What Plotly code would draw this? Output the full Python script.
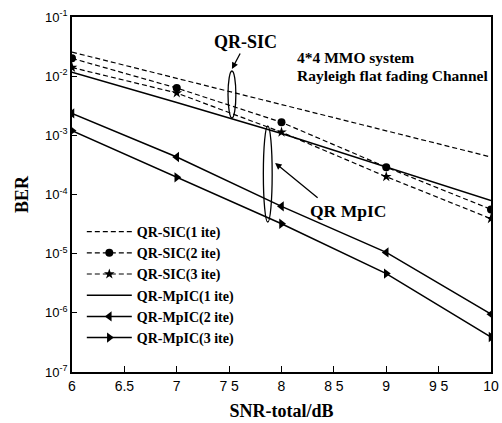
import plotly.graph_objects as go

snr = [6, 7, 8, 9, 10]
sic1 = [0.0255, 0.0092, 0.0033, 0.00118, 0.00043]
sic2 = [0.020, 0.0063, 0.00166, 0.00029, 0.000056]
sic3 = [0.014, 0.0052, 0.00113, 0.00020, 0.000039]
mpic1 = [0.0117, 0.0036, 0.00107, 0.00029, 0.000079]
mpic2 = [0.00235, 0.00043, 0.000063, 0.0000105, 0.00000095]
mpic3 = [0.0012, 0.000195, 0.000032, 0.0000046, 0.00000039]

names = ["QR-SIC(1 ite)", "QR-SIC(2 ite)", "QR-SIC(3 ite)",
         "QR-MpIC(1 ite)", "QR-MpIC(2 ite)", "QR-MpIC(3 ite)"]
xtick_vals = [6, 6.5, 7, 7.5, 8, 8.5, 9, 9.5, 10]
xtick_text = ["6", "6.5", "7", "7 5", "8", "8 5", "9", "9 5", "10"]
ytick_vals = [1e-7, 1e-6, 1e-5, 1e-4, 1e-3, 1e-2, 1e-1]
ytick_text = ["10<sup>-7</sup>", "10<sup>-6</sup>", "10<sup>-5</sup>", "10<sup>-4</sup>",
              "10<sup>-3</sup>", "10<sup>-2</sup>", "10<sup>-1</sup>"]

W, H = 502, 423
L, R, T, B = 72, 3, 17, 51
PW, PH = W - L - R, H - T - B

def px(x):
    return (x - L) / PW

def py(y):
    return 1 - (y - T) / PH

serif = "Liberation Serif"
sans = "Liberation Sans"

fig = go.Figure()
dash = "5px,3px"
series = [
    (sic1, dict(dash=dash, width=1.2), dict(symbol="circle", size=1, opacity=0), "lines"),
    (sic2, dict(dash=dash, width=1.2), dict(symbol="circle", size=8), "lines+markers"),
    (sic3, dict(dash=dash, width=1.2), dict(symbol="star", size=8), "lines+markers"),
    (mpic1, dict(width=1.5), dict(symbol="circle", size=1), "lines"),
    (mpic2, dict(width=1.5), dict(symbol="triangle-left", size=9), "lines+markers"),
    (mpic3, dict(width=1.5), dict(symbol="triangle-right", size=9), "lines+markers"),
]
for (vals, line, marker, mode), name in zip(series, names):
    line["color"] = "black"
    marker["color"] = "black"
    fig.add_trace(go.Scatter(x=snr, y=vals, name="<b>" + name + "</b>", mode=mode,
                             line=line, marker=marker))

# ellipses
fig.add_shape(type="circle", xref="paper", yref="paper",
              x0=px(231), x1=px(239), y0=py(118), y1=py(71),
              line=dict(color="black", width=1.3))
fig.add_shape(type="circle", xref="paper", yref="paper",
              x0=px(267), x1=px(276), y0=py(222), y1=py(126),
              line=dict(color="black", width=1.3))

fig.add_annotation(xref="paper", yref="paper", x=px(249), y=py(42),
                   xanchor="center", yanchor="middle",
                   text="<b>QR-SIC</b>", showarrow=False,
                   font=dict(family=serif, size=18, color="black"))
fig.add_annotation(xref="paper", yref="paper", x=px(235), y=py(69),
                   ax=9, ay=-17, axref="pixel", ayref="pixel",
                   text="", showarrow=True, arrowhead=2, arrowsize=1,
                   arrowwidth=1.3, arrowcolor="black")
fig.add_annotation(xref="paper", yref="paper", x=px(353), y=py(211),
                   xanchor="center", yanchor="middle",
                   text="<b>QR MpIC</b>", showarrow=False,
                   font=dict(family=serif, size=17.5, color="black"))
fig.add_annotation(xref="paper", yref="paper", x=px(279), y=py(163),
                   ax=44, ay=36, axref="pixel", ayref="pixel",
                   text="", showarrow=True, arrowhead=2, arrowsize=1,
                   arrowwidth=1.3, arrowcolor="black")
fig.add_annotation(xref="paper", yref="paper", x=px(299), y=py(58),
                   xanchor="left", yanchor="middle",
                   text="<b>4*4 MMO system</b>", showarrow=False,
                   font=dict(family=serif, size=15.5, color="black"))
fig.add_annotation(xref="paper", yref="paper", x=px(299), y=py(75),
                   xanchor="left", yanchor="middle",
                   text="<b>Rayleigh flat fading Channel</b>",
                   showarrow=False,
                   font=dict(family=serif, size=15.5, color="black"))

fig.update_layout(
    width=W, height=H,
    margin=dict(l=L, r=R, t=T, b=B),
    paper_bgcolor="white", plot_bgcolor="white",
    showlegend=True,
    legend=dict(x=px(82), y=py(216), xanchor="left", yanchor="top",
                bgcolor="rgba(0,0,0,0)", borderwidth=0,
                font=dict(family=serif, size=14, color="black"),
                tracegroupgap=0, itemwidth=45),
    xaxis=dict(range=[6, 10], tickvals=xtick_vals, ticktext=xtick_text,
               ticks="inside", ticklen=6, tickcolor="black",
               ticklabeloverflow="allow",
               showline=True, linecolor="black", linewidth=1.5, mirror=True,
               showgrid=False, zeroline=False,
               tickfont=dict(family=sans, size=14, color="black"),
               title=dict(text="<b>SNR-total/dB</b>",
                          font=dict(family=serif, size=18, color="black"),
                          standoff=12)),
    yaxis=dict(type="log", range=[-7, -1], tickvals=ytick_vals, ticktext=ytick_text,
               ticks="inside", ticklen=5, tickcolor="black",
               showline=True, linecolor="black", linewidth=1.5, mirror=True,
               showgrid=False, zeroline=False,
               tickfont=dict(family=sans, size=13, color="black"),
               title=dict(text="<b>BER</b>",
                          font=dict(family=serif, size=18, color="black"),
                          standoff=12)),
)

fig.write_html("out.html")
